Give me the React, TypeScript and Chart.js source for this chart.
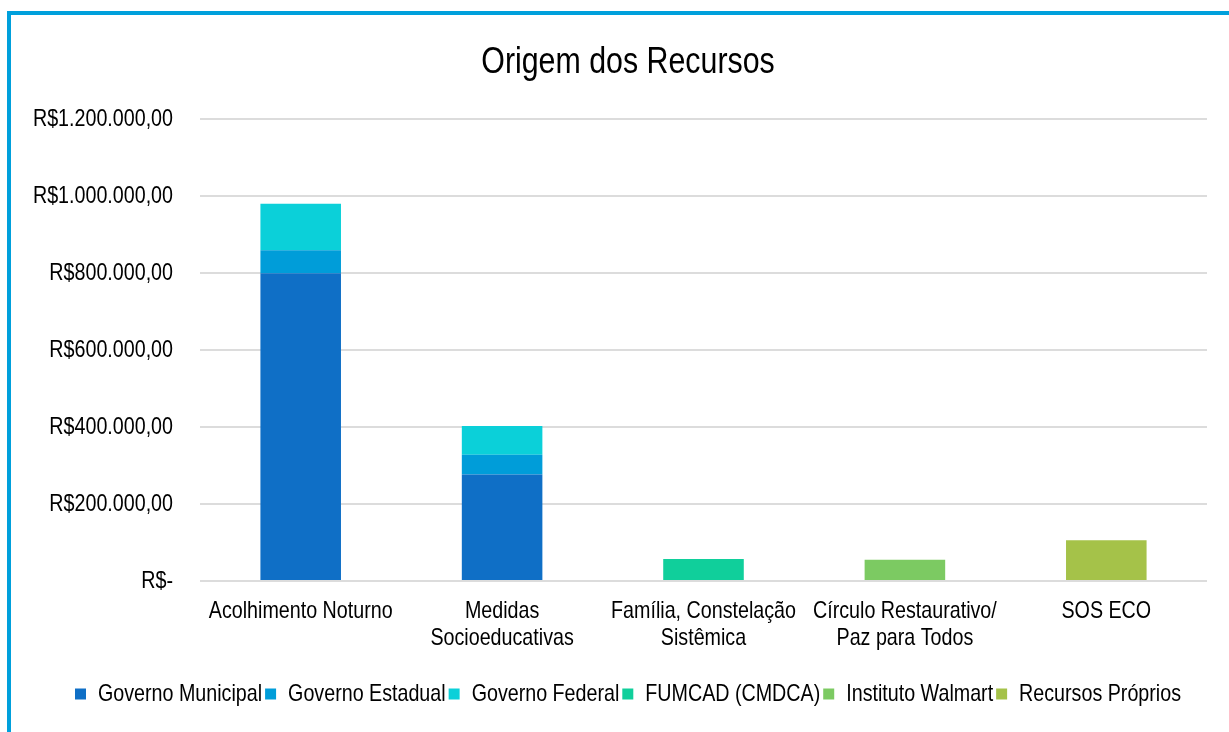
import React, { useEffect, useRef } from "react";
import { Chart, registerables } from "chart.js";

Chart.register(...registerables);

const categories: (string | string[])[] = [
  "Acolhimento Noturno",
  ["Medidas", "Socioeducativas"],
  ["Família, Constelação", "Sistêmica"],
  ["Círculo Restaurativo/", "Paz para Todos"],
  "SOS ECO",
];

const seriesNames = [
  "Governo Municipal",
  "Governo Estadual",
  "Governo Federal",
  "FUMCAD (CMDCA)",
  "Instituto Walmart",
  "Recursos Próprios",
];

const governoMunicipal = [800000, 277000, null, null, null];
const governoEstadual = [60000, 51000, null, null, null];
const governoFederal = [121000, 75000, null, null, null];
const fumcad = [null, null, 57000, null, null];
const institutoWalmart = [null, null, null, 55000, null];
const recursosProprios = [null, null, null, null, 106000];

const seriesColors = ["#0f6fc6", "#009dd9", "#0bd0d9", "#10cf9b", "#7cca62", "#a5c249"];

const yMin = 0;
const yMax = 1200000;
const yStep = 200000;

const FONT = "'Liberation Sans', Arial, sans-serif";
const NARROW = 0.82;

function formatBRL(v: number): string {
  if (v === 0) return "R$-";
  const intPart = Math.round(v).toString().replace(/\B(?=(\d{3})+(?!\d))/g, ".");
  return `R$${intPart},00`;
}

function makeNarrow(ctx: CanvasRenderingContext2D) {
  const origFill = ctx.fillText.bind(ctx);
  const origMeasure = ctx.measureText.bind(ctx);
  (ctx as any).fillText = (text: string, x: number, y: number, maxWidth?: number) => {
    ctx.save();
    ctx.translate(x, y);
    ctx.scale(NARROW, 1);
    if (maxWidth !== undefined) origFill(text, 0, 0, maxWidth / NARROW);
    else origFill(text, 0, 0);
    ctx.restore();
  };
  (ctx as any).measureText = (text: string) => {
    const m = origMeasure(text);
    return {
      width: m.width * NARROW,
      actualBoundingBoxLeft: m.actualBoundingBoxLeft * NARROW,
      actualBoundingBoxRight: m.actualBoundingBoxRight * NARROW,
      actualBoundingBoxAscent: m.actualBoundingBoxAscent,
      actualBoundingBoxDescent: m.actualBoundingBoxDescent,
      fontBoundingBoxAscent: m.fontBoundingBoxAscent,
      fontBoundingBoxDescent: m.fontBoundingBoxDescent,
    };
  };
}

// widen the y-axis label clip box to the left so long tick labels are not cut
const widenYAxisBox = {
  id: "widenYAxisBox",
  afterLayout(chart: any) {
    const s = chart.scales.y;
    if (s) s.left = Math.max(0, s.left - 30);
  },
};

export default function App() {
  const canvasRef = useRef<HTMLCanvasElement | null>(null);

  useEffect(() => {
    document.body.style.overflow = "hidden";
    const canvas = canvasRef.current;
    if (!canvas) return;
    const ctx = canvas.getContext("2d");
    if (ctx) makeNarrow(ctx);
    const values = [
      governoMunicipal,
      governoEstadual,
      governoFederal,
      fumcad,
      institutoWalmart,
      recursosProprios,
    ];
    const chart = new Chart(canvas, {
      type: "bar",
      data: {
        labels: categories,
        datasets: seriesNames.map((name, i) => ({
          label: name,
          data: values[i],
          backgroundColor: seriesColors[i],
          borderWidth: 0,
          barPercentage: 0.4,
          categoryPercentage: 1.0,
        })),
      },
      plugins: [widenYAxisBox],
      options: {
        animation: false,
        responsive: true,
        maintainAspectRatio: false,
        layout: { padding: { top: 0, left: 38, right: 22, bottom: 16 } },
        plugins: {
          title: {
            display: true,
            text: "Origem dos Recursos",
            color: "#000",
            font: { family: FONT, size: 37, weight: "normal", lineHeight: 1.2 },
            padding: { top: 26, bottom: 34 },
          },
          legend: {
            position: "bottom",
            labels: {
              color: "#000",
              font: { family: FONT, size: 24, lineHeight: 1.2 },
              boxWidth: 11,
              boxHeight: 11,
              padding: 3,
            },
          },
          tooltip: { enabled: false },
        },
        scales: {
          x: {
            stacked: true,
            grid: { display: false, drawTicks: false },
            border: { display: false },
            ticks: {
              color: "#000",
              font: { family: FONT, size: 24, lineHeight: 1.12 },
              padding: 17,
              maxRotation: 0,
              autoSkip: false,
            },
            afterFit: (scale: any) => {
              scale.height = 98;
            },
          },
          y: {
            stacked: true,
            min: yMin,
            max: yMax,
            grid: { color: "#dcdcdc", lineWidth: 2, drawTicks: false },
            border: { display: false },
            ticks: {
              stepSize: yStep,
              color: "#000",
              font: { family: FONT, size: 24 },
              padding: 27,
              callback: (v: any) => formatBRL(Number(v)),
            },
            afterFit: (scale: any) => {
              scale.width = 151;
            },
          },
        },
      } as any,
    });
    return () => chart.destroy();
  }, []);

  return (
    <>
      <div
        style={{
          position: "absolute",
          left: 7,
          top: 11,
          width: 1222,
          height: 721,
          boxSizing: "border-box",
          borderTop: "4px solid #00a0dc",
          borderLeft: "4px solid #00a0dc",
        }}
      />
      <div style={{ position: "absolute", left: 11, top: 15, width: 1218, height: 717 }}>
        <canvas ref={canvasRef} style={{ display: "block" }} />
      </div>
    </>
  );
}
